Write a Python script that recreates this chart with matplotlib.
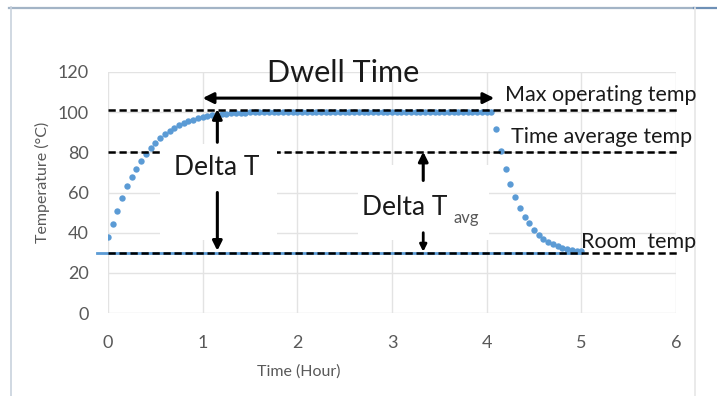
import matplotlib
matplotlib.use("Agg")
import matplotlib.pyplot as plt
from matplotlib.lines import Line2D
from matplotlib.patches import Rectangle

plt.rcParams['font.family'] = ['Lato', 'DejaVu Sans']

# ---- data ----
time_h = [0.00, 0.05, 0.10, 0.15, 0.20, 0.25, 0.30, 0.35, 0.40, 0.45,
          0.50, 0.55, 0.60, 0.65, 0.70, 0.75, 0.80, 0.85, 0.90, 0.95,
          1.00, 1.05, 1.10, 1.15, 1.20, 1.25, 1.30, 1.35, 1.40, 1.45,
          1.50, 1.55, 1.60, 1.65, 1.70, 1.75, 1.80, 1.85, 1.90, 1.95,
          2.00, 2.05, 2.10, 2.15, 2.20, 2.25, 2.30, 2.35, 2.40, 2.45,
          2.50, 2.55, 2.60, 2.65, 2.70, 2.75, 2.80, 2.85, 2.90, 2.95,
          3.00, 3.05, 3.10, 3.15, 3.20, 3.25, 3.30, 3.35, 3.40, 3.45,
          3.50, 3.55, 3.60, 3.65, 3.70, 3.75, 3.80, 3.85, 3.90, 3.95,
          4.00, 4.05, 4.10, 4.15, 4.20, 4.25, 4.30, 4.35, 4.40, 4.45,
          4.50, 4.55, 4.60, 4.65, 4.70, 4.75, 4.80, 4.85, 4.90, 4.95,
          5.00]
temp_c = [38.0, 44.5, 51.0, 57.5, 63.0, 67.5, 71.5, 75.5, 79.0, 82.0,
          84.5, 87.0, 89.0, 90.5, 92.0, 93.5, 94.5, 95.5, 96.3, 97.0,
          97.6, 98.1, 98.5, 98.8, 99.1, 99.3, 99.5, 99.6, 99.7, 99.8,
          99.9, 100.0, 100.0, 100.0, 100.0, 100.0, 100.0, 100.0, 100.0, 100.0,
          100.0, 100.0, 100.0, 100.0, 100.0, 100.0, 100.0, 100.0, 100.0, 100.0,
          100.0, 100.0, 100.0, 100.0, 100.0, 100.0, 100.0, 100.0, 100.0, 100.0,
          100.0, 100.0, 100.0, 100.0, 100.0, 100.0, 100.0, 100.0, 100.0, 100.0,
          100.0, 100.0, 100.0, 100.0, 100.0, 100.0, 100.0, 100.0, 100.0, 100.0,
          100.0, 100.0, 91.5, 80.7, 71.5, 64.0, 58.0, 52.5, 48.0, 44.7,
          41.5, 39.0, 37.0, 35.5, 34.3, 33.3, 32.5, 31.8, 31.3, 31.0,
          30.7]

room_x = [-0.12, 5.0]
room_temp = [30, 30]

max_temp = 101
avg_temp = 80
ref_temp = 30
dwell_start = 1.0
dwell_end = 4.08

x_ticks = [0, 1, 2, 3, 4, 5, 6]
y_ticks = [0, 20, 40, 60, 80, 100, 120]

BLUE = '#5B9BD5'
GREY = '#595959'
GRID = '#E3E3E3'
INK = '#1A1A1A'

fig = plt.figure(figsize=(7.17, 3.96), dpi=100)
W, H = 717, 396


def fx(px):
    return px / W


def fy(py):
    return 1 - py / H


ax = fig.add_axes([fx(108), fy(313), fx(676) - fx(108), fy(72) - fy(313)])
ax.set_xlim(0, 6)
ax.set_ylim(0, 120)
ax.set_xticks(x_ticks)
ax.set_yticks(y_ticks)
ax.tick_params(length=0, labelsize=13, labelcolor=GREY)
ax.tick_params(axis='y', pad=14)
ax.tick_params(axis='x', pad=16)
for s in ax.spines.values():
    s.set_visible(False)
ax.grid(True, color=GRID, lw=1)
ax.set_axisbelow(True)

# room temperature series (blue, under dashed)
ax.plot(room_x, room_temp, color=BLUE, lw=2.0, clip_on=False, zorder=2)

# main series
ax.plot(time_h, temp_c, 'o', color=BLUE, ms=4.6, mec='none', zorder=3)

# white text boxes hiding grid / dashed lines
ax.add_patch(Rectangle((0.55, 36.5), 1.24, 47.5, facecolor='white',
                       edgecolor='none', zorder=4))
ax.add_patch(Rectangle((2.64, 36.5), 1.38, 37.0, facecolor='white',
                       edgecolor='none', zorder=4))

# dashed reference lines
dash = dict(color='black', lw=1.8, dashes=(2.9, 1.5), zorder=3.5, clip_on=False)
ax.plot([0, 6.02], [max_temp, max_temp], **dash)
ax.plot([0, 6.02], [avg_temp, avg_temp], **dash)
ax.plot([0, 6.02], [ref_temp, ref_temp], **dash)

# dwell time arrow
ax.annotate('', xy=(dwell_start, 107), xytext=(dwell_end, 107),
            arrowprops=dict(arrowstyle='<|-|>', color='black', lw=2.2,
                            mutation_scale=16, shrinkA=0, shrinkB=0),
            zorder=6)
ax.text(2.48, 119.5, 'Dwell Time', fontsize=22, ha='center', va='center',
        color=INK, zorder=6, clip_on=False)

# Delta T
ax.text(1.145, 72.2, 'Delta T', fontsize=19, ha='center', va='center',
        color=INK, zorder=6)
arr = dict(arrowstyle='-|>', color='black', lw=2.2, mutation_scale=14,
           shrinkA=0, shrinkB=0)
ax.annotate('', xy=(1.155, 101.5), xytext=(1.155, 85), arrowprops=arr, zorder=6)
ax.annotate('', xy=(1.155, 31), xytext=(1.155, 60), arrowprops=arr, zorder=6)

# Delta T avg
ax.text(2.68, 52.3, 'Delta T', fontsize=19, ha='left', va='center',
        color=INK, zorder=6)
ax.text(3.65, 47.3, 'avg', fontsize=12, ha='left', va='center',
        color=GREY, zorder=6)
ax.annotate('', xy=(3.33, 80.3), xytext=(3.33, 66), arrowprops=arr, zorder=6)
arr2 = dict(arrowstyle='-|>', color='black', lw=2.0, mutation_scale=10,
            shrinkA=0, shrinkB=0)
ax.annotate('', xy=(3.33, 30.5), xytext=(3.33, 40), arrowprops=arr2, zorder=6)

# right side labels
ax.text(4.19, 108.6, 'Max operating temp', fontsize=15.5, ha='left',
        va='center', color=INK, zorder=6, clip_on=False)
ax.text(4.26, 87.8, 'Time average temp', fontsize=15.5, ha='left',
        va='center', color=INK, zorder=6, clip_on=False)
ax.text(5.0, 35.5, 'Room  temp', fontsize=15.5, ha='left',
        va='center', color=INK, zorder=6, clip_on=False)

# axis titles
fig.text(fx(299), fy(372), 'Time (Hour)', fontsize=11.5, color=GREY,
         ha='center', va='center')
fig.text(fx(42), fy(182), 'Temperature (°C)', fontsize=11.5, color=GREY,
         ha='center', va='center', rotation=90)

# outer frame lines (behind the axes content)
frame_kw = dict(transform=fig.transFigure, zorder=-1)
fig.add_artist(Line2D([fx(9), fx(694)], [fy(7.5), fy(7.5)], color='#A3B4C6',
                      lw=1.6, **frame_kw))
fig.add_artist(Line2D([fx(694), fx(717)], [fy(7.5), fy(7.5)], color='#6E90B6',
                      lw=1.6, **frame_kw))
fig.add_artist(Line2D([fx(10.5), fx(10.5)], [fy(7), fy(396)], color='#C8D2DD',
                      lw=1.2, **frame_kw))
fig.add_artist(Line2D([fx(694.5), fx(694.5)], [fy(8), fy(396)], color='#E6E6E6',
                      lw=1.2, **frame_kw))

fig.savefig('out.png', dpi=100)
